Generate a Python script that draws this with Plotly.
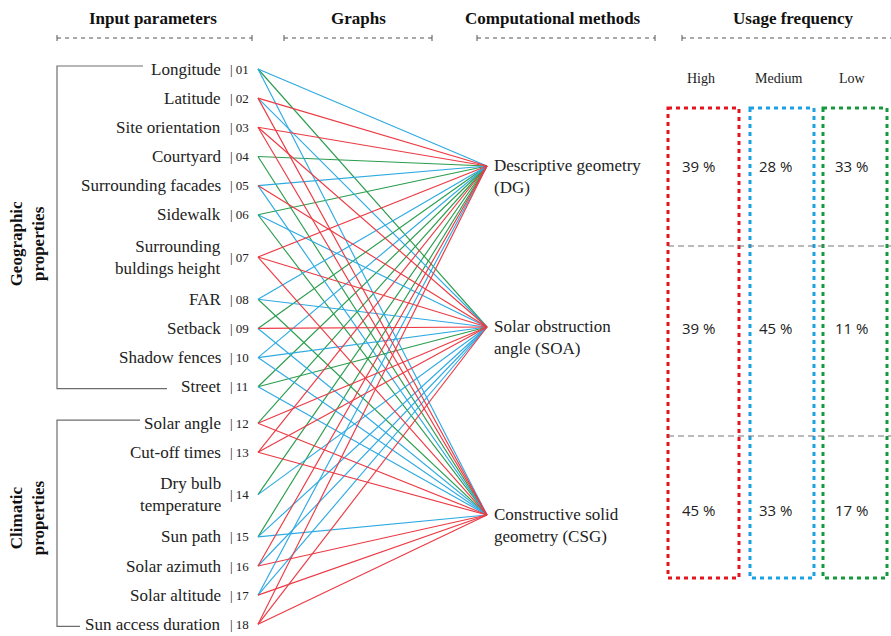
import plotly.graph_objects as go

# ---------------- data ----------------
inputs = ["Longitude", "Latitude", "Site orientation", "Courtyard", "Surrounding facades",
          "Sidewalk", "Surrounding<br>buldings height", "FAR", "Setback", "Shadow fences",
          "Street", "Solar angle", "Cut-off times", "Dry bulb<br>temperature", "Sun path",
          "Solar azimuth", "Solar altitude", "Sun access duration"]
codes = ["01", "02", "03", "04", "05", "06", "07", "08", "09", "10",
         "11", "12", "13", "14", "15", "16", "17", "18"]
groups = ["Geographic"] * 11 + ["Climatic"] * 7
group_titles = {"Geographic": "Geographic<br>properties", "Climatic": "Climatic<br>properties"}

methods = ["Descriptive geometry<br>(DG)", "Solar obstruction<br>angle (SOA)",
           "Constructive solid<br>geometry (CSG)"]
# usage level of each input parameter in each method (H / M / L, None = no link)
link_dg = ["M", "H", "H", "L", "M", "L", "H", "M", "L", "M", "L", "L", "H", "L", "L", "H", "M", "H"]
link_soa = ["L", "M", "H", None, "H", "M", "H", "M", "H", "M", "L", "H", "H", "M", "M", "M", "M", "H"]
link_csg = ["M", "H", "H", "L", "M", "L", "H", "L", "M", "M", "M", "H", "H", None, "M", "H", "H", "H"]
links = [link_dg, link_soa, link_csg]

levels = ["High", "Medium", "Low"]
usage_high = [39, 39, 45]
usage_medium = [28, 45, 33]
usage_low = [33, 11, 17]
usage = [usage_high, usage_medium, usage_low]

headers = ["Input parameters", "Graphs", "Computational methods", "Usage frequency"]

# ---------------- layout / style ----------------
W, H = 891, 636
SERIF = "Liberation Serif, Times New Roman, serif"
SANS = "Open Sans, Noto Sans, sans-serif"
line_colors = {"H": "#ec3a44", "M": "#2eaae2", "L": "#2b9d4e"}
box_colors = ["#e3151e", "#1ba0e2", "#16993c"]
GRAY = "#6e6e6e"

# row positions of the input nodes
y0, step = 69.0, 29.15
node_y = []
y = y0
for i in range(len(inputs)):
    if i > 0:
        f = 1.0
        if "<br>" in inputs[i] or "<br>" in inputs[i - 1]:
            f += 0.45
        if groups[i] != groups[i - 1]:
            f += 0.25
        y += step * f
    node_y.append(y)

node_x = 258
meth_x = 487
meth_y = [166, 327, 515]

fig = go.Figure()

# connection lines
for code in ["L", "M", "H"]:
    xs, ys = [], []
    for m in range(len(methods)):
        for i in range(len(inputs)):
            if links[m][i] == code:
                xs += [node_x, meth_x, None]
                ys += [node_y[i], meth_y[m], None]
    fig.add_trace(go.Scatter(x=xs, y=ys, mode="lines",
                             line=dict(color=line_colors[code], width=1.15),
                             hoverinfo="skip", showlegend=False))

ann = []
shapes = []

# headers
header_x = [153, 358, 553, 793]
for t, hx in zip(headers, header_x):
    ann.append(dict(x=hx, y=18, text="<b>%s</b>" % t, showarrow=False,
                    font=dict(family=SERIF, size=17, color="#111")))
header_lines = [(57, 252), (284, 432), (477, 655), (682, 900)]
for a, b in header_lines:
    shapes.append(dict(type="line", x0=a, x1=b, y0=38, y1=38,
                       line=dict(color="#555", width=1, dash="4px,4px")))
    shapes.append(dict(type="line", x0=a, x1=a, y0=35, y1=41, line=dict(color="#555", width=1)))
    if b < W:
        shapes.append(dict(type="line", x0=b, x1=b, y0=35, y1=41, line=dict(color="#555", width=1)))

# input labels
for i, (name, c) in enumerate(zip(inputs, codes)):
    ann.append(dict(x=223, y=node_y[i], text=name, showarrow=False, xanchor="right",
                    align="right", yanchor="middle",
                    font=dict(family=SERIF, size=17, color="#222")))
    ann.append(dict(x=228, y=node_y[i], text="| " + c, showarrow=False, xanchor="left",
                    yanchor="middle", font=dict(family=SERIF, size=13, color="#222")))

# group brackets
geo = [i for i, g in enumerate(groups) if g == "Geographic"]
cli = [i for i, g in enumerate(groups) if g == "Climatic"]
for idx, top_end, bot_end, name, off in [(geo, 143, 167, "Geographic", 17),
                                         (cli, 140, 80, "Climatic", -5)]:
    ya, yb = node_y[idx[0]] - 3, node_y[idx[-1]] + 2
    shapes.append(dict(type="path",
                       path="M %d %.1f L 57 %.1f L 57 %.1f L %d %.1f" % (top_end, ya, ya, yb, bot_end, yb),
                       line=dict(color=GRAY, width=1.2)))
    ann.append(dict(x=27, y=(ya + yb) / 2 + off, text="<b>%s</b>" % group_titles[name],
                    showarrow=False, textangle=-90,
                    font=dict(family=SERIF, size=17, color="#111")))

# method labels
for m, name in enumerate(methods):
    ann.append(dict(x=492, y=meth_y[m] - 12, text=name, showarrow=False, xanchor="left",
                    yanchor="top", align="left",
                    font=dict(family=SERIF, size=17, color="#222")))

# usage frequency boxes
box_x = [(668, 739), (750, 814), (823, 887)]
for k, (a, b) in enumerate(box_x):
    shapes.append(dict(type="rect", x0=a, x1=b, y0=108, y1=578,
                       line=dict(color=box_colors[k], width=3, dash="4px,4px")))
    ann.append(dict(x=(a + b) / 2 - 3, y=78, text=levels[k], showarrow=False,
                    font=dict(family=SERIF, size=14, color="#222")))
for yy in [246, 436]:
    shapes.append(dict(type="line", x0=668, x1=891, y0=yy, y1=yy,
                       line=dict(color="#777", width=1, dash="6px,4px")))
pct_y = [166, 328, 510]
pct_x = [698, 775, 851]
for k in range(3):
    for m in range(3):
        ann.append(dict(x=pct_x[k], y=pct_y[m], text="%d %%" % usage[k][m], showarrow=False,
                        font=dict(family=SANS, size=15, color="#222")))

fig.update_layout(
    width=W, height=H, margin=dict(l=0, r=0, t=0, b=0),
    paper_bgcolor="white", plot_bgcolor="white",
    xaxis=dict(range=[0, W], visible=False, fixedrange=True),
    yaxis=dict(range=[H, 0], visible=False, fixedrange=True),
    annotations=ann, shapes=shapes, showlegend=False,
)

fig.write_html("out.html", config={"displayModeBar": False, "staticPlot": True},
               post_script="document.body.style.margin='0';document.body.style.overflow='hidden';")
